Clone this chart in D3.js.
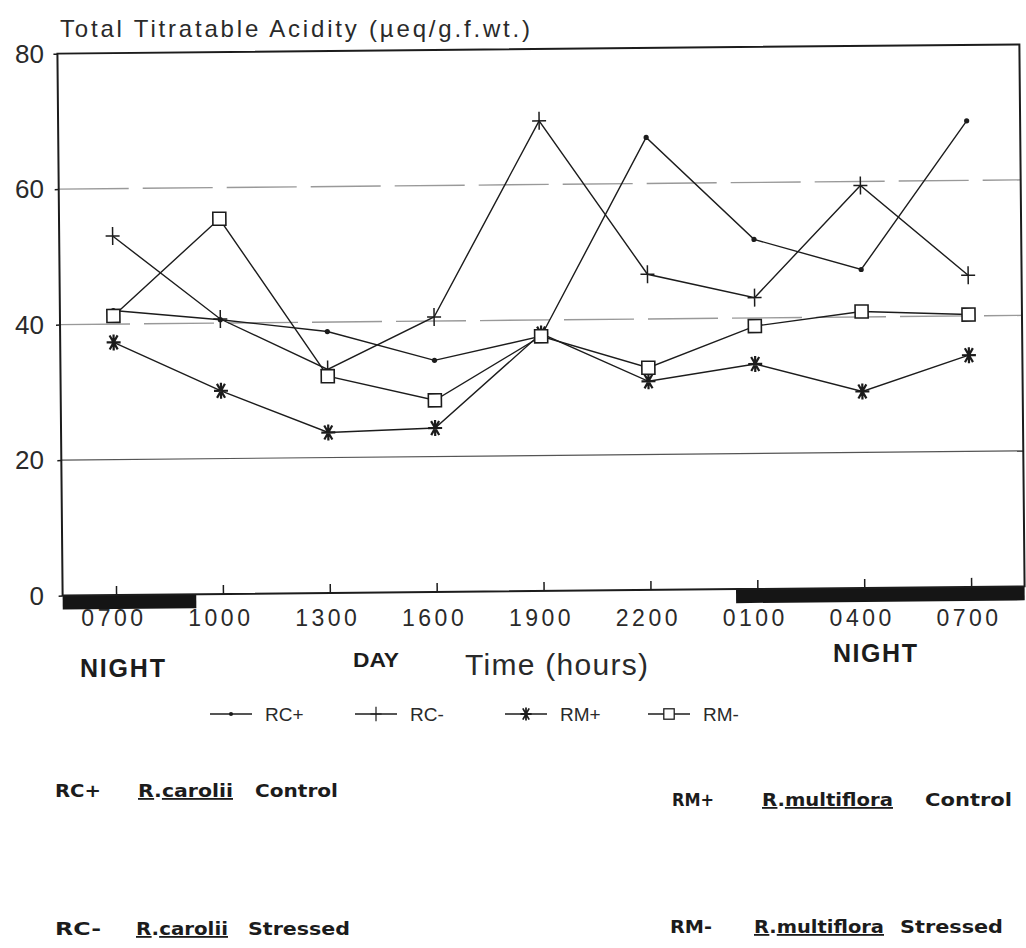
<!DOCTYPE html>
<html>
<head>
<meta charset="utf-8">
<script src="https://cdn.jsdelivr.net/npm/d3@7"></script>
<style>
  body { margin: 0; background: #fff; }
  svg { display: block; font-family: "Liberation Sans", Arial, sans-serif; }
</style>
</head>
<body>
<svg id="chart" width="1026" height="948"></svg>
<script>
// sampling times (every 3 h, starting 07:00)
const times = ['0700', '1000', '1300', '1600', '1900', '2200', '0100', '0400', '0700'];

// total titratable acidity, µeq / g fresh wt
const rcPlus  = [42, 40.5, 38.6, 34.2, 37.6, 66.8, 51.6, 47, 68.8];
const rcMinus = [53, 40.6, 33, 40.6, 69.4, 46.6, 43, 59.4, 46];
const rmPlus  = [37.3, 30, 23.7, 24.2, 38, 30.8, 33.2, 29, 34.2];
const rmMinus = [41.2, 55.4, 32, 28.3, 37.6, 32.8, 38.8, 40.8, 40.2];

const yTicks = [0, 20, 40, 60, 80];
// dark bars under the axis, in sampling-slot units
const nightBands = [[-0.5, 0.75], [5.8, 8.5]];

const series = [
  {key: 'RC+', values: rcPlus,  marker: 'dot'},
  {key: 'RC-', values: rcMinus, marker: 'plus'},
  {key: 'RM+', values: rmPlus,  marker: 'star'},
  {key: 'RM-', values: rmMinus, marker: 'square'},
];

const notes = [
  {code: 'RC+', genus: 'R', species: 'carolii',    status: 'Control'},
  {code: 'RC-', genus: 'R', species: 'carolii',    status: 'Stressed'},
  {code: 'RM+', genus: 'R', species: 'multiflora', status: 'Control'},
  {code: 'RM-', genus: 'R', species: 'multiflora', status: 'Stressed'},
];

const ink = '#1c1c1c';
const plotLeft = 60, plotRight = 1022, plotTop = 49, plotBottom = 591;

const x = d3.scaleLinear().domain([-0.5, times.length - 0.5]).range([plotLeft, plotRight]);
const y = d3.scaleLinear().domain([0, 80]).range([plotBottom, plotTop]);

const svg = d3.select('#chart');

// the scanned figure sits slightly askew
const plot = svg.append('g')
  .attr('transform', `rotate(-0.55, ${(plotLeft + plotRight) / 2}, ${(plotTop + plotBottom) / 2})`);

// grid
plot.append('g').selectAll('line')
  .data(yTicks.filter(d => d > 0 && d < 80))
  .join('line')
  .attr('x1', plotLeft).attr('x2', plotRight)
  .attr('y1', d => y(d)).attr('y2', d => y(d))
  .attr('stroke', d => d === 20 ? '#555' : '#999')
  .attr('stroke-width', d => d === 20 ? 1.2 : 1.4)
  .attr('stroke-dasharray', d => d === 20 ? null : '70,14');

// night bars
plot.append('g').selectAll('rect')
  .data(nightBands)
  .join('rect')
  .attr('x', d => x(d[0]))
  .attr('width', d => x(d[1]) - x(d[0]))
  .attr('y', plotBottom)
  .attr('height', 14)
  .attr('fill', '#151515');

// frame
plot.append('rect')
  .attr('x', plotLeft).attr('y', plotTop)
  .attr('width', plotRight - plotLeft).attr('height', plotBottom - plotTop)
  .attr('fill', 'none').attr('stroke', ink).attr('stroke-width', 2);

// tick marks
plot.append('g')
  .attr('transform', `translate(0, ${plotBottom})`)
  .call(d3.axisBottom(x).tickValues(d3.range(times.length)).tickSize(-9).tickFormat(''))
  .call(g => g.select('.domain').remove())
  .call(g => g.selectAll('line').attr('stroke', ink).attr('stroke-width', 1.5));

plot.append('g')
  .attr('transform', `translate(${plotLeft}, 0)`)
  .call(d3.axisLeft(y).tickValues(yTicks).tickSize(4).tickFormat(''))
  .call(g => g.select('.domain').remove())
  .call(g => g.selectAll('line').attr('stroke', ink).attr('stroke-width', 1.5));

// series lines
const line = d3.line()
  .x((d, i) => x(i))
  .y(d => y(d));

plot.append('g').selectAll('path')
  .data(series)
  .join('path')
  .attr('d', d => line(d.values))
  .attr('fill', 'none')
  .attr('stroke', ink)
  .attr('stroke-width', 1.4);

function drawMarker(sel, type) {
  if (type === 'dot') {
    sel.append('circle').attr('r', 2.6).attr('fill', ink);
  } else if (type === 'plus') {
    sel.append('path').attr('d', 'M-7,0H7M0,-9V9')
      .attr('stroke', ink).attr('stroke-width', 1.5).attr('fill', 'none');
  } else if (type === 'star') {
    sel.append('path').attr('d', 'M-7,0H7M-4,-7L4,7M4,-7L-4,7M0,-8V8')
      .attr('stroke', ink).attr('stroke-width', 2.2).attr('fill', 'none');
  } else {
    sel.append('rect').attr('x', -6.5).attr('y', -6.5).attr('width', 13).attr('height', 13)
      .attr('fill', '#fff').attr('stroke', ink).attr('stroke-width', 1.6);
  }
}

series.forEach(s => {
  plot.append('g').selectAll('g')
    .data(s.values)
    .join('g')
    .attr('transform', (d, i) => `translate(${x(i)}, ${y(d)})`)
    .each(function () { drawMarker(d3.select(this), s.marker); });
});

// axis labels (kept upright)
svg.append('g')
  .attr('transform', `translate(0, ${plotBottom})`)
  .call(d3.axisBottom(x).tickValues(d3.range(times.length)).tickSize(0).tickPadding(19)
    .tickFormat(i => times[i]))
  .call(g => g.select('.domain').remove())
  .call(g => g.selectAll('text')
    .attr('font-family', '"Liberation Sans", Arial, sans-serif')
    .attr('font-size', 23).attr('letter-spacing', 3.5).attr('fill', '#2a2a2a'));

svg.append('g')
  .attr('transform', `translate(${plotLeft}, 0)`)
  .call(d3.axisLeft(y).tickValues(yTicks).tickSize(0).tickPadding(16))
  .call(g => g.select('.domain').remove())
  .call(g => g.selectAll('text')
    .attr('font-family', '"Liberation Sans", Arial, sans-serif')
    .attr('font-size', 26).attr('dy', '0.5em').attr('fill', '#2a2a2a'));

svg.append('text')
  .attr('x', 60).attr('y', 37)
  .attr('font-size', 24).attr('fill', '#2a2a2a')
  .attr('textLength', 470).attr('lengthAdjust', 'spacing')
  .text('Total Titratable Acidity (µeq/g.f.wt.)');

svg.append('text')
  .attr('x', 465).attr('y', 675)
  .attr('font-size', 30).attr('fill', '#2a2a2a')
  .attr('textLength', 183).attr('lengthAdjust', 'spacing')
  .text('Time (hours)');

const bold = svg.append('g').attr('font-weight', 'bold').attr('fill', ink);
bold.append('text').attr('x', 80).attr('y', 677).attr('font-size', 25)
  .attr('textLength', 85).text('NIGHT');
bold.append('text').attr('x', 833).attr('y', 662).attr('font-size', 25)
  .attr('textLength', 84).text('NIGHT');
bold.append('text').attr('x', 353).attr('y', 667).attr('font-size', 20)
  .attr('textLength', 46).attr('lengthAdjust', 'spacingAndGlyphs').text('DAY');

// legend
const legendX = [231, 376, 526, 669];
const legend = svg.append('g').attr('transform', 'translate(0, 714)');
series.forEach((s, i) => {
  const item = legend.append('g').attr('transform', `translate(${legendX[i]}, 0)`);
  item.append('line').attr('x1', -21).attr('x2', 21)
    .attr('stroke', ink).attr('stroke-width', 1.4);
  drawMarker(item.append('g').attr('transform', 'scale(0.8)'), s.marker);
  item.append('text')
    .attr('x', 34).attr('y', 7)
    .attr('font-size', 19).attr('fill', '#2a2a2a')
    .text(s.key);
});

// species key: [code x, code width, name x, name width, status x, status width, baseline]
const notePos = [
  [55, 46, 138, 95, 255, 83, 797],
  [55, 46, 136, 92, 248, 102, 935],
  [672, 42, 762, 131, 925, 87, 806],
  [670, 42, 754, 130, 900, 103, 933],
];
notes.forEach((n, i) => {
  const [cx, cw, sx, sw, tx, tw, by] = notePos[i];
  const t = svg.append('g')
    .attr('font-family', '"DejaVu Sans", sans-serif')
    .attr('font-weight', 'bold').attr('font-size', 18).attr('fill', ink);
  t.append('text').attr('x', cx).attr('y', by)
    .attr('textLength', cw).attr('lengthAdjust', 'spacingAndGlyphs').text(n.code);
  const sp = t.append('text').attr('x', sx).attr('y', by)
    .attr('textLength', sw).attr('lengthAdjust', 'spacingAndGlyphs');
  sp.append('tspan').attr('text-decoration', 'underline').text(n.genus);
  sp.append('tspan').text('.');
  sp.append('tspan').attr('text-decoration', 'underline').text(n.species);
  t.append('text').attr('x', tx).attr('y', by)
    .attr('textLength', tw).attr('lengthAdjust', 'spacingAndGlyphs').text(n.status);
});
</script>
</body>
</html>
